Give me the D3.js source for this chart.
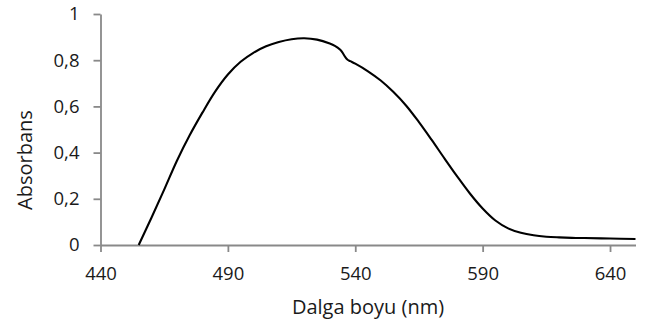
<!DOCTYPE html>
<html>
<head>
<meta charset="utf-8">
<script src="https://cdn.jsdelivr.net/npm/d3@7"></script>
<style>
  html, body { margin: 0; padding: 0; background: #fff; }
  svg { display: block; }
  text { font-family: "Open Sans", sans-serif; fill: #1a1a1a; }
</style>
</head>
<body>
<svg id="chart" width="651" height="326"></svg>
<script>
// Data
const wavelength = [455, 460, 465, 470, 475, 480, 485, 490, 495, 500, 505, 510, 515, 520, 525, 530, 532, 534, 535, 536, 537, 538, 540, 545, 550, 555, 560, 565, 570, 575, 580, 585, 590, 595, 600, 605, 610, 615, 620, 625, 630, 640, 650];
const absorbance = [0, 0.118, 0.24, 0.365, 0.475, 0.573, 0.664, 0.738, 0.793, 0.832, 0.86, 0.879, 0.891, 0.895, 0.889, 0.872, 0.862, 0.846, 0.833, 0.815, 0.802, 0.796, 0.785, 0.752, 0.712, 0.662, 0.603, 0.532, 0.455, 0.375, 0.297, 0.223, 0.158, 0.106, 0.072, 0.053, 0.042, 0.036, 0.033, 0.031, 0.030, 0.028, 0.026];
const xTicks = [440, 490, 540, 590, 640];
const yTicks = [0, 0.2, 0.4, 0.6, 0.8, 1];
const xTitle = "Dalga boyu (nm)";
const yTitle = "Absorbans";

const svg = d3.select("#chart");
const x = d3.scaleLinear().domain([440, 650]).range([100.5, 635.5]);
const y = d3.scaleLinear().domain([0, 1]).range([245, 14]);
const axisColor = "#898989";
const fmt = d => String(d).replace(".", ",");

// y axis
const gy = svg.append("g").attr("transform", `translate(${x(440)},0)`)
  .call(d3.axisLeft(y).tickValues(yTicks).tickSize(7).tickSizeOuter(0).tickPadding(14).tickFormat(fmt));
// x axis
const gx = svg.append("g").attr("transform", `translate(0,${y(0)})`)
  .call(d3.axisBottom(x).tickValues(xTicks).tickSize(7).tickSizeOuter(0).tickPadding(15).tickFormat(d3.format("d")));

[gx, gy].forEach(g => {
  g.select(".domain").attr("stroke", axisColor).attr("stroke-width", 1.8);
  g.selectAll(".tick line").attr("stroke", axisColor).attr("stroke-width", 1.8);
  g.selectAll(".tick text").attr("fill", "#1a1a1a").style("font-family", "'Open Sans', sans-serif").style("font-size", "18.5px");
});

// data line
const data = wavelength.map((w, i) => [w, absorbance[i]]);
const line = d3.line().x(d => x(d[0])).y(d => y(d[1])).curve(d3.curveCatmullRom.alpha(0.5));
svg.append("path").datum(data)
  .attr("d", line)
  .attr("fill", "none")
  .attr("stroke", "#000")
  .attr("stroke-width", 2.1)
  .attr("stroke-linejoin", "round");

// titles
svg.append("text").attr("x", 368).attr("y", 314).attr("text-anchor", "middle")
  .style("font-size", "20px").text(xTitle);
svg.append("text").attr("transform", "translate(32,160) rotate(-90)").attr("text-anchor", "middle")
  .style("font-size", "20px").text(yTitle);
</script>
</body>
</html>
